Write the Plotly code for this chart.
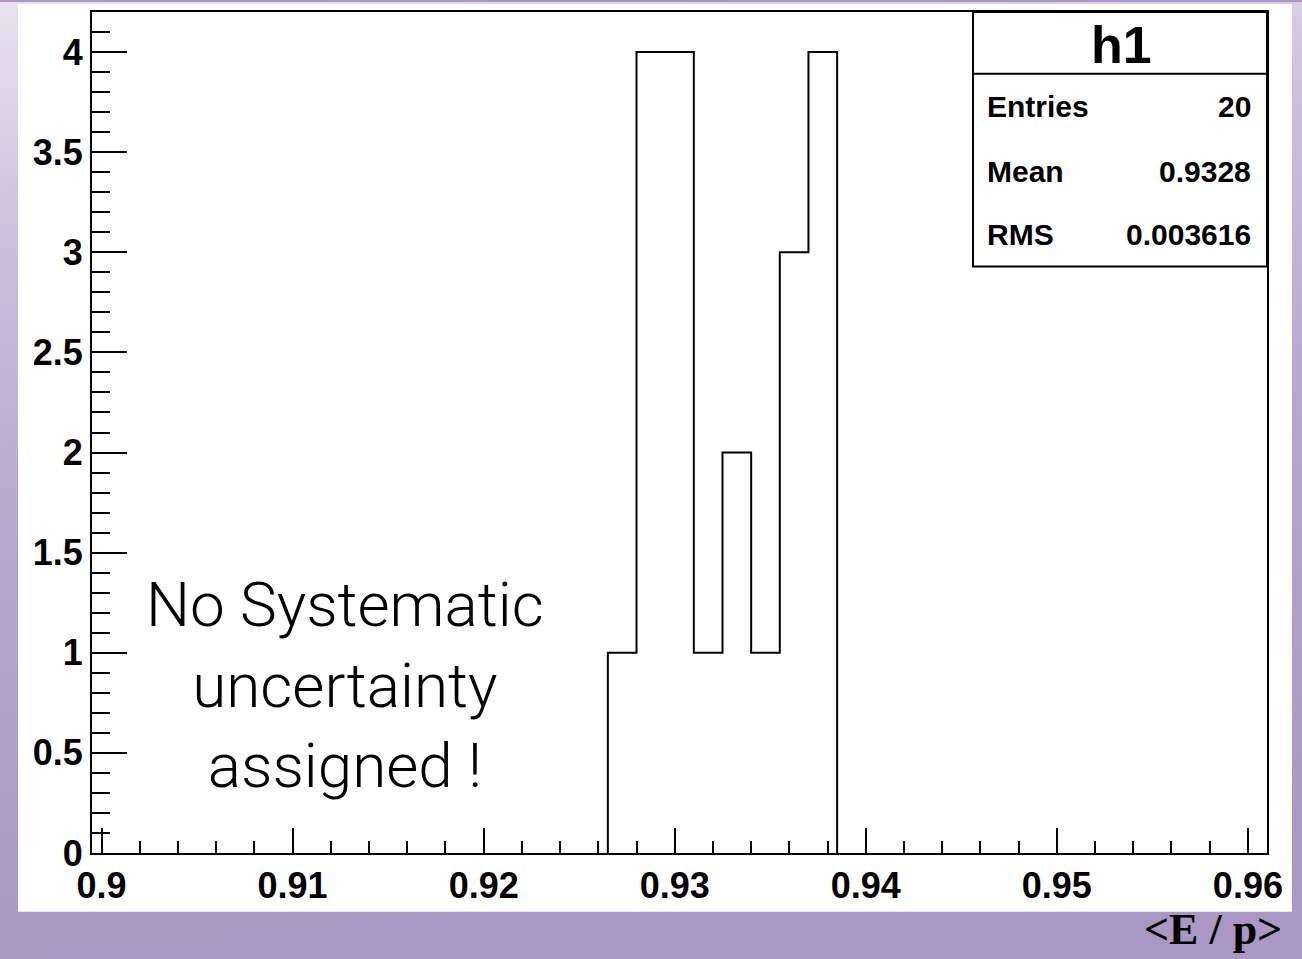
import base64
import plotly.graph_objects as go

# ---------------- data ----------------
bin_edges = [0.9265, 0.9280, 0.9295, 0.9310, 0.9325, 0.9340, 0.9355, 0.9370, 0.9385]
bin_counts = [1, 4, 4, 1, 2, 1, 3, 4]
x_range = [0.8995, 0.9610]
y_range = [0.0, 4.2]
stat_title = "h1"
stat_labels = ["Entries", "Mean", "RMS"]
stat_values = ["20", "0.9328", "0.003616"]
note_lines = ["No Systematic", "uncertainty", "assigned !"]
x_title = "&lt;E / p&gt;"

W, H = 1302, 959
ML, MR, MT, MB = 92, 35, 10, 106
PW, PH = W - ML - MR, H - MT - MB


def fx(p):
    return (p - ML) / PW


def fy(p):
    return 1 - (p - MT) / PH


# step outline of the histogram (ROOT style)
xs = [bin_edges[0]] + bin_edges[:-1] + [bin_edges[-1]]
ys = [0] + bin_counts + [0]

fig = go.Figure()
fig.add_trace(go.Scatter(
    x=xs, y=ys, mode="lines", line=dict(color="black", width=2, shape="hv"),
    hoverinfo="skip", showlegend=False, cliponaxis=False,
))

# gradient background image (svg)
svg = (
    '<svg xmlns="http://www.w3.org/2000/svg" width="1302" height="959" '
    'viewBox="0 0 1302 959" preserveAspectRatio="none">'
    '<defs><linearGradient id="g" x1="0" y1="0" x2="0.15" y2="1">'
    '<stop offset="0" stop-color="#e8e2f0"/>'
    '<stop offset="0.25" stop-color="#cbbfdb"/>'
    '<stop offset="0.55" stop-color="#b7a7cc"/>'
    '<stop offset="1" stop-color="#ab97c3"/>'
    '</linearGradient></defs>'
    '<rect x="0" y="0" width="1302" height="959" fill="url(#g)"/></svg>'
)
src = "data:image/svg+xml;base64," + base64.b64encode(svg.encode()).decode()

tickfont = dict(family="Liberation Sans, Arial, sans-serif", size=36, color="black", weight="bold")

fig.update_layout(
    width=W, height=H,
    margin=dict(l=ML, r=MR, t=MT, b=MB, pad=0),
    paper_bgcolor="#ab97c3",
    plot_bgcolor="rgba(0,0,0,0)",
    images=[dict(source=src, xref="paper", yref="paper", x=fx(0), y=fy(0),
                 sizex=W / PW, sizey=H / PH,
                 xanchor="left", yanchor="top", sizing="stretch", layer="below")],
    xaxis=dict(
        range=x_range, showgrid=False, zeroline=False,
        showline=True, linecolor="black", linewidth=2, mirror=True,
        ticks="inside", tick0=0.9, dtick=0.01, ticklen=25, tickwidth=2, tickcolor="black",
        minor=dict(ticks="inside", tick0=0.9, dtick=0.002, ticklen=12, tickwidth=2, tickcolor="black"),
        tickfont=tickfont,
    ),
    yaxis=dict(
        range=y_range, showgrid=False, zeroline=False,
        showline=True, linecolor="black", linewidth=2, mirror=True,
        ticks="inside", tick0=0, dtick=0.5, ticklen=35, tickwidth=2, tickcolor="black",
        minor=dict(ticks="inside", tick0=0, dtick=0.1, ticklen=18, tickwidth=2, tickcolor="black"),
        tickfont=tickfont,
    ),
    showlegend=False,
)

shapes = [
    # white canvas
    dict(type="rect", xref="paper", yref="paper", x0=fx(18), x1=fx(1292), y0=fy(912), y1=fy(2),
         fillcolor="white", line=dict(width=0), layer="below"),
    # stats box
    dict(type="rect", xref="paper", yref="paper", x0=fx(973), x1=fx(1267), y0=fy(265), y1=fy(10),
         fillcolor="white", line=dict(color="black", width=2), layer="above"),
    dict(type="line", xref="paper", yref="paper", x0=fx(973), x1=fx(1267), y0=fy(72), y1=fy(72),
         line=dict(color="black", width=2), layer="above"),
]
fig.update_layout(shapes=shapes)

annots = []
statfont = dict(family="Liberation Sans, Arial, sans-serif", size=30, color="black", weight="bold")
annots.append(dict(text=stat_title, x=fx(1121), y=fy(43), xref="paper", yref="paper",
                   showarrow=False, xanchor="center", yanchor="middle",
                   font=dict(family="Liberation Sans, Arial, sans-serif", size=52, color="black", weight="bold")))
row_y = [105, 170, 233]
for lab, val, yy in zip(stat_labels, stat_values, row_y):
    annots.append(dict(text=lab, x=fx(985), y=fy(yy), xref="paper", yref="paper",
                       showarrow=False, xanchor="left", yanchor="middle", font=statfont))
    annots.append(dict(text=val, x=fx(1253), y=fy(yy), xref="paper", yref="paper",
                       showarrow=False, xanchor="right", yanchor="middle", font=statfont))

annots.append(dict(text="<br>".join(note_lines), x=fx(345), y=fy(685), xref="paper", yref="paper",
                   showarrow=False, xanchor="center", yanchor="middle", align="center",
                   font=dict(family="Roboto, Lato, sans-serif", size=62, color="black", weight=300)))

annots.append(dict(text=x_title, x=fx(1284), y=fy(930), xref="paper", yref="paper",
                   showarrow=False, xanchor="right", yanchor="middle",
                   font=dict(family="Liberation Serif, Times New Roman, serif", size=44,
                             color="black", weight="bold")))
fig.update_layout(annotations=annots)

fig.write_html("out.html")
